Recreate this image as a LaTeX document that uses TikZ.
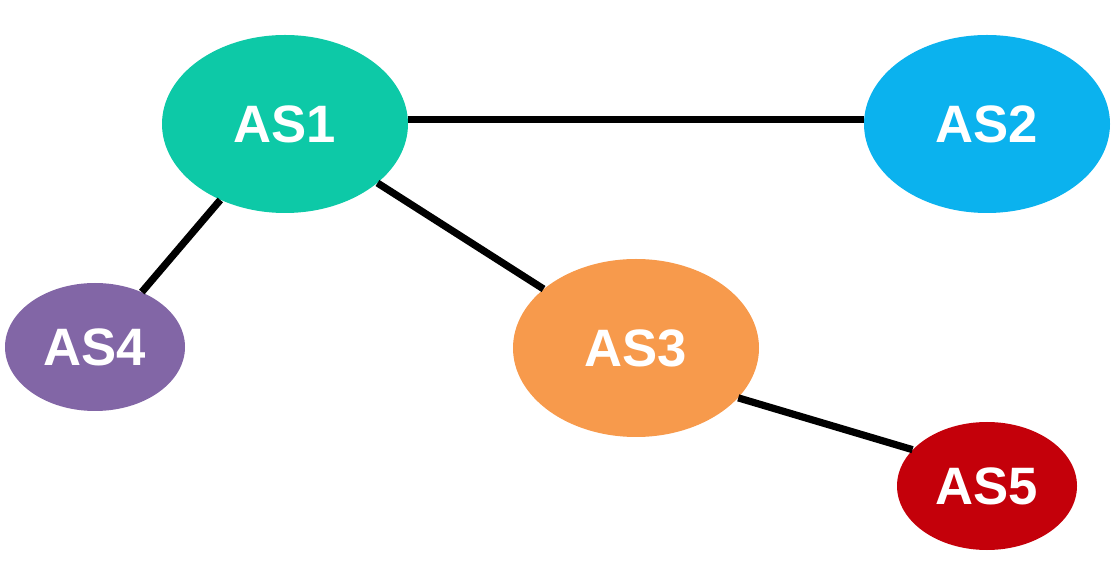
\documentclass[tikz,border=0pt]{standalone}
\usepackage{fontspec}
\setmainfont{Liberation Sans}
\usetikzlibrary{shapes.geometric}
\definecolor{cas1}{HTML}{0DC9A7}
\definecolor{cas2}{HTML}{0BB2EE}
\definecolor{cas3}{HTML}{F79A4C}
\definecolor{cas4}{HTML}{8266A6}
\definecolor{cas5}{HTML}{C4000A}
\tikzset{
  asnode/.style={ellipse, inner sep=0pt, text=white, font=\fontsize{39.5pt}{42pt}\selectfont\bfseries},
  big/.style={minimum width=184.5pt, minimum height=133.5pt},
  small/.style={minimum width=135pt, minimum height=96pt},
  link/.style={line width=5.4pt, black}
}
\begin{document}
\begin{tikzpicture}[x=0.75pt,y=-0.75pt]
\useasboundingbox (0,0) rectangle (1114,566);
\node[asnode,big,fill=cas1] (as1) at (285,124) {AS1};
\node[asnode,big,fill=cas2] (as2) at (987,124) {AS2};
\node[asnode,big,fill=cas3] (as3) at (636,348) {AS3};
\node[asnode,small,fill=cas4] (as4) at (95,347) {AS4};
\node[asnode,small,fill=cas5] (as5) at (987,486) {AS5};
\draw[link] (as1.2) -- (as2.178);
\draw[link] (as1) -- (as4);
\draw[link] (as1) -- (as3);
\draw[link] (as3.-26) -- (as5.154);
\end{tikzpicture}
\end{document}
